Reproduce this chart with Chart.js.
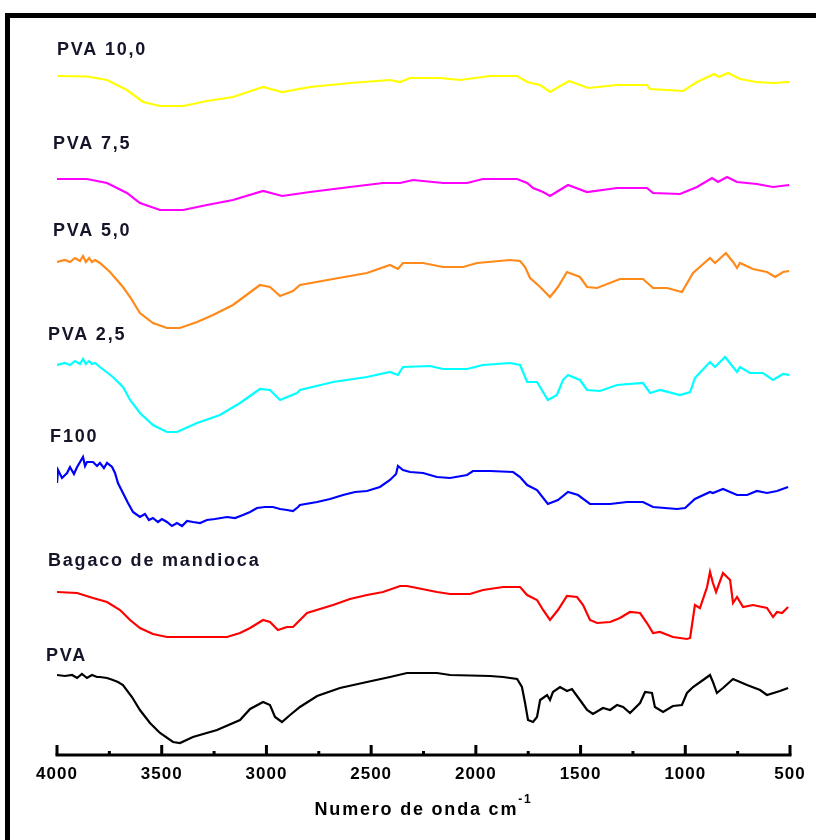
<!DOCTYPE html>
<html>
<head>
<meta charset="utf-8">
<script src="https://cdn.jsdelivr.net/npm/chart.js@4.4.1/dist/chart.umd.min.js"></script>
<style>
  html, body { margin: 0; padding: 0; background: #ffffff; }
  canvas { display: block; }
</style>
</head>
<body>
<canvas id="ftir" width="816" height="840"></canvas>
<script>
// FTIR spectra, stacked with an offset (transmittance, arbitrary units)
const seriesNames = ['PVA 10,0', 'PVA 7,5', 'PVA 5,0', 'PVA 2,5', 'F100', 'Bagaco de mandioca', 'PVA'];
const seriesColors = ['#ffff00', '#ff00ff', '#ff8a1a', '#00ffff', '#0000ff', '#ff0000', '#000000'];

const wnPVA10 = [4000, 3857, 3761, 3666, 3589, 3508, 3398, 3284, 3160, 3016, 2925, 2792, 2601, 2410, 2362, 2314, 2171, 2076, 1932, 1803, 1755, 1693, 1646, 1555, 1464, 1326, 1183, 1168, 1010, 944, 863, 839, 796, 738, 662, 581, 504];
const tPVA10  = [67.6, 67.55, 67.2, 66.2, 65.0, 64.6, 64.6, 65.1, 65.5, 66.5, 66.0, 66.5, 66.9, 67.2, 67.0, 67.4, 67.4, 67.2, 67.6, 67.6, 67.0, 66.7, 66.0, 67.1, 66.4, 66.7, 66.7, 66.3, 66.1, 67.0, 67.8, 67.5, 67.9, 67.3, 67.0, 66.9, 67.0];

const wnPVA75 = [4000, 3857, 3761, 3666, 3604, 3508, 3398, 3284, 3160, 3016, 2925, 2792, 2601, 2443, 2362, 2300, 2157, 2042, 1966, 1803, 1755, 1727, 1679, 1646, 1560, 1469, 1326, 1183, 1154, 1025, 944, 872, 844, 801, 753, 658, 581, 504];
const tPVA75  = [57.3, 57.3, 56.9, 55.9, 54.9, 54.2, 54.2, 54.7, 55.2, 56.1, 55.6, 56.0, 56.5, 56.9, 56.9, 57.2, 56.9, 56.9, 57.3, 57.3, 56.9, 56.4, 56.0, 55.6, 56.7, 56.0, 56.4, 56.4, 55.9, 55.8, 56.5, 57.4, 57.0, 57.5, 57.0, 56.8, 56.5, 56.7];

const wnPVA50 = [4000, 3962, 3938, 3914, 3890, 3876, 3862, 3847, 3833, 3818, 3795, 3747, 3685, 3651, 3604, 3542, 3475, 3413, 3331, 3255, 3160, 3031, 2983, 2935, 2873, 2840, 2682, 2520, 2410, 2372, 2348, 2252, 2157, 2061, 1994, 1837, 1789, 1765, 1741, 1693, 1646, 1608, 1565, 1503, 1469, 1421, 1312, 1202, 1154, 1087, 1016, 963, 882, 858, 806, 772, 753, 739, 677, 610, 571, 533, 504];
const tPVA50  = [49.0, 49.2, 49.0, 49.4, 49.1, 49.6, 49.0, 49.4, 49.0, 49.2, 48.9, 48.0, 46.5, 45.5, 43.9, 42.9, 42.4, 42.4, 43.0, 43.7, 44.7, 46.7, 46.5, 45.6, 46.1, 46.7, 47.3, 47.9, 48.7, 48.3, 48.9, 48.9, 48.5, 48.5, 48.9, 49.2, 49.1, 48.5, 47.4, 46.5, 45.5, 46.5, 48.0, 47.5, 46.5, 46.4, 47.3, 47.3, 46.4, 46.4, 46.0, 47.9, 49.4, 48.9, 49.9, 49.0, 48.4, 48.9, 48.3, 48.0, 47.5, 48.0, 48.1];

const wnPVA25 = [4000, 3962, 3938, 3914, 3890, 3876, 3862, 3847, 3833, 3818, 3795, 3733, 3685, 3651, 3604, 3542, 3475, 3427, 3331, 3222, 3126, 3031, 2983, 2935, 2854, 2840, 2682, 2520, 2410, 2372, 2348, 2219, 2157, 2042, 1966, 1837, 1789, 1755, 1708, 1656, 1613, 1584, 1560, 1503, 1469, 1407, 1326, 1202, 1168, 1121, 1025, 977, 954, 882, 858, 810, 753, 739, 691, 629, 581, 533, 504];
const tPVA25  = [38.7, 38.9, 38.7, 39.1, 38.8, 39.3, 38.8, 39.1, 38.8, 38.9, 38.5, 37.5, 36.5, 35.2, 33.9, 32.7, 32.0, 32.0, 32.9, 33.7, 34.9, 36.3, 36.2, 35.2, 35.9, 36.2, 37.0, 37.5, 38.0, 37.7, 38.5, 38.6, 38.3, 38.3, 38.7, 38.9, 38.7, 37.0, 37.0, 35.2, 35.7, 37.2, 37.7, 37.2, 36.2, 36.1, 36.7, 36.9, 35.9, 36.2, 35.7, 36.0, 37.4, 39.0, 38.5, 39.5, 38.0, 38.5, 37.9, 37.9, 37.2, 37.8, 37.7];

const wnF100 = [4000, 3995, 3976, 3952, 3938, 3919, 3904, 3890, 3876, 3866, 3857, 3828, 3809, 3795, 3776, 3761, 3737, 3723, 3709, 3685, 3661, 3637, 3604, 3580, 3561, 3542, 3518, 3499, 3475, 3451, 3427, 3403, 3379, 3351, 3317, 3284, 3246, 3188, 3150, 3112, 3078, 3045, 3007, 2969, 2935, 2902, 2873, 2849, 2840, 2758, 2696, 2634, 2577, 2520, 2458, 2410, 2381, 2372, 2348, 2314, 2252, 2186, 2123, 2042, 2014, 1932, 1822, 1789, 1755, 1708, 1656, 1608, 1560, 1512, 1455, 1359, 1278, 1202, 1154, 1040, 1001, 954, 882, 868, 820, 753, 705, 658, 610, 562, 509];
const tF100  = [26.9, 28.2, 27.4, 27.9, 28.5, 27.8, 28.5, 29.0, 29.5, 28.6, 29.0, 29.0, 28.6, 28.9, 28.4, 28.9, 28.5, 27.9, 26.9, 25.9, 24.9, 24.0, 23.5, 23.8, 23.2, 23.4, 23.0, 23.3, 23.0, 22.6, 22.9, 22.6, 23.1, 23.0, 22.9, 23.2, 23.3, 23.5, 23.4, 23.7, 24.0, 24.4, 24.5, 24.5, 24.3, 24.2, 24.1, 24.5, 24.7, 25.0, 25.3, 25.7, 26.0, 26.1, 26.5, 27.2, 27.8, 28.6, 28.2, 28.0, 27.9, 27.5, 27.4, 27.7, 28.1, 28.1, 28.0, 27.5, 26.7, 26.2, 24.8, 25.2, 26.0, 25.7, 24.8, 24.8, 25.0, 25.0, 24.5, 24.3, 24.4, 25.3, 26.0, 25.9, 26.3, 25.7, 25.7, 26.1, 25.9, 26.1, 26.5];

const wnBagaco = [4000, 3904, 3828, 3761, 3699, 3651, 3604, 3542, 3475, 3188, 3126, 3078, 3016, 2983, 2945, 2902, 2873, 2806, 2682, 2601, 2520, 2443, 2362, 2329, 2281, 2186, 2123, 2028, 1966, 1870, 1789, 1755, 1708, 1679, 1646, 1608, 1565, 1517, 1488, 1455, 1421, 1359, 1312, 1264, 1216, 1183, 1154, 1121, 1059, 992, 977, 954, 930, 896, 882, 868, 853, 820, 786, 772, 753, 724, 677, 610, 581, 562, 538, 509];
const tBagaco  = [16.0, 15.9, 15.4, 15.0, 14.2, 13.2, 12.4, 11.8, 11.5, 11.5, 11.9, 12.4, 13.2, 13.0, 12.2, 12.5, 12.5, 13.9, 14.7, 15.3, 15.7, 16.0, 16.6, 16.6, 16.4, 16.0, 15.8, 15.8, 16.2, 16.5, 16.5, 15.7, 15.2, 14.2, 13.2, 14.2, 15.6, 15.5, 14.7, 13.2, 12.9, 13.0, 13.4, 14.0, 13.9, 12.9, 11.9, 12.0, 11.5, 11.3, 11.4, 14.7, 14.4, 16.5, 18.0, 16.9, 16.0, 17.9, 17.2, 14.9, 15.5, 14.5, 14.7, 14.4, 13.5, 14.0, 13.9, 14.5];

const wnPVA = [4000, 3962, 3928, 3904, 3881, 3857, 3833, 3809, 3795, 3761, 3733, 3709, 3685, 3642, 3604, 3556, 3508, 3446, 3413, 3351, 3236, 3126, 3078, 3016, 2983, 2959, 2926, 2887, 2840, 2758, 2649, 2520, 2410, 2329, 2186, 2123, 1932, 1870, 1803, 1780, 1765, 1751, 1727, 1708, 1693, 1660, 1646, 1632, 1598, 1565, 1541, 1503, 1469, 1441, 1393, 1359, 1326, 1297, 1264, 1216, 1192, 1159, 1145, 1106, 1059, 1016, 992, 963, 915, 882, 868, 849, 820, 772, 705, 643, 610, 548, 509];
const tPVA  = [7.7, 7.6, 7.7, 7.4, 7.8, 7.4, 7.7, 7.5, 7.5, 7.4, 7.2, 7.0, 6.7, 5.5, 4.2, 2.9, 1.9, 1.0, 0.9, 1.5, 2.2, 3.2, 4.3, 5.0, 4.7, 3.5, 3.0, 3.7, 4.5, 5.6, 6.4, 7.0, 7.5, 7.9, 7.9, 7.7, 7.6, 7.5, 7.3, 6.5, 4.9, 3.2, 3.0, 3.5, 5.2, 5.7, 5.2, 6.0, 6.5, 6.1, 6.3, 5.2, 4.2, 3.8, 4.4, 4.2, 4.7, 4.5, 3.9, 4.9, 6.0, 5.9, 4.5, 4.0, 4.6, 4.7, 5.9, 6.5, 7.2, 7.7, 7.0, 5.9, 6.4, 7.3, 6.7, 6.2, 5.7, 6.1, 6.4];

const seriesWn = [wnPVA10, wnPVA75, wnPVA50, wnPVA25, wnF100, wnBagaco, wnPVA];
const seriesT  = [tPVA10, tPVA75, tPVA50, tPVA25, tF100, tBagaco, tPVA];

// x axis ticks (cm-1)
const xTickLabels = [4000, 3500, 3000, 2500, 2000, 1500, 1000, 500];
const xMinorTicks = [3750, 3250, 2750, 2250, 1750, 1250, 750];
const xTitle = 'Numero de onda cm';
const xTitleSup = '-1';

// where each spectrum's name sits, in axis units (wavenumber, transmittance)
const labelAnchors = [
  [4000, 70.2], [4019, 60.8], [4019, 52.1], [4043, 41.7],
  [4033, 31.5], [4043, 19.1], [4053, 9.6]
];

const datasets = seriesNames.map((name, i) => ({
  label: name,
  data: seriesWn[i].map((w, j) => ({ x: w, y: seriesT[i][j] })),
  borderColor: seriesColors[i],
  borderWidth: 2.2,
  pointRadius: 0,
  tension: 0,
  fill: false
}));

const FONT = '"Liberation Sans", Arial, sans-serif';

const decor = {
  id: 'decor',
  afterDraw(chart) {
    const ctx = chart.ctx;
    const xs = chart.scales.x, ys = chart.scales.y;
    const axisY = chart.chartArea.bottom + 3;
    ctx.save();

    // axis line
    ctx.fillStyle = '#000';
    const xl = xs.getPixelForValue(4000), xr = xs.getPixelForValue(500);
    ctx.fillRect(xl - 1.5, axisY - 1.5, xr - xl + 3, 3);
    // major ticks, pointing up
    xTickLabels.forEach(v => {
      const px = xs.getPixelForValue(v);
      ctx.fillRect(px - 1.5, axisY - 10, 3, 10);
    });
    // minor ticks
    xMinorTicks.forEach(v => {
      const px = xs.getPixelForValue(v);
      ctx.fillRect(px - 1.5, axisY - 4, 3, 3);
    });

    // tick labels
    ctx.textAlign = 'center';
    ctx.textBaseline = 'middle';
    ctx.font = 'bold 17px ' + FONT;
    ctx.letterSpacing = '1px';
    xTickLabels.forEach(v => {
      ctx.fillText(String(v), xs.getPixelForValue(v), axisY + 19);
    });

    // axis title with superscript
    ctx.letterSpacing = '1.8px';
    ctx.font = 'bold 18px ' + FONT;
    const tw = ctx.measureText(xTitle).width;
    ctx.font = 'bold 12px ' + FONT;
    const sw = ctx.measureText(xTitleSup).width;
    const cx = (xl + xr) / 2;
    const x0 = cx - (tw + sw) / 2;
    ctx.textAlign = 'left';
    ctx.font = 'bold 18px ' + FONT;
    ctx.fillText(xTitle, x0, axisY + 55);
    ctx.font = 'bold 12px ' + FONT;
    ctx.fillText(xTitleSup, x0 + tw, axisY + 45);

    // spectrum names
    ctx.fillStyle = '#15152a';
    ctx.font = 'bold 18px ' + FONT;
    ctx.letterSpacing = '1.8px';
    seriesNames.forEach((name, i) => {
      const [w, t] = labelAnchors[i];
      ctx.fillText(name, xs.getPixelForValue(w), ys.getPixelForValue(t));
    });

    // frame
    ctx.fillStyle = '#000';
    ctx.fillRect(5, 13, chart.width - 5, 5);
    ctx.fillRect(5, 13, 5, chart.height - 13);
    ctx.restore();
  }
};

new Chart(document.getElementById('ftir'), {
  type: 'line',
  data: { datasets },
  options: {
    responsive: false,
    animation: false,
    devicePixelRatio: 1,
    layout: { padding: { left: 57, right: 26, top: 20, bottom: 88 } },
    scales: {
      x: { type: 'linear', min: 500, max: 4000, reverse: true, display: false },
      y: { type: 'linear', min: 0, max: 73.2, display: false }
    },
    plugins: { legend: { display: false }, tooltip: { enabled: false } }
  },
  plugins: [decor]
});
</script>
</body>
</html>
